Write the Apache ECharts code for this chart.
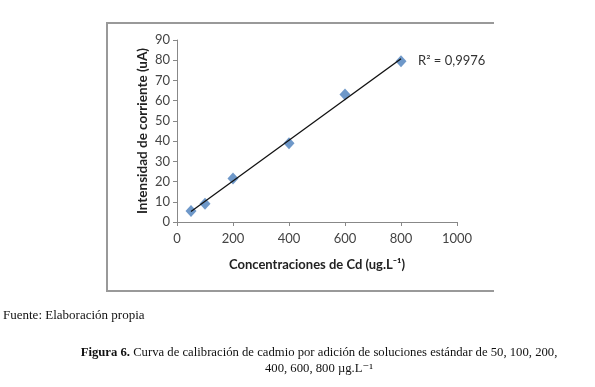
<!DOCTYPE html>
<html>
<head>
<meta charset="utf-8">
<script src="https://cdn.jsdelivr.net/npm/echarts@6/dist/echarts.min.js"></script>
<style>
  html, body { margin: 0; padding: 0; background: #fff; }
  #chart { width: 595px; height: 387px; }
</style>
</head>
<body>
<div id="chart"></div>
<script>
// concentraciones (ug/L) y corriente (uA)
const concentraciones = [50, 100, 200, 400, 600, 800]
const corriente = [5.5, 9, 21.5, 39, 63, 79.5]
const r2Texto = 'R² = 0,9976'
const fuente = 'Fuente: Elaboración propia'
const captionBold = 'Figura 6.'
const captionLine1 = ' Curva de calibración de cadmio por adición de soluciones estándar de 50, 100, 200,'
const captionLine2 = '400, 600, 800 µg.L⁻¹'

const FONT = 'Lato, "Open Sans", sans-serif'
const SERIF = '"Liberation Serif", "DejaVu Serif", serif'

// recta de mínimos cuadrados
function fit(xs, ys) {
  const n = xs.length
  const mx = xs.reduce((a, b) => a + b, 0) / n
  const my = ys.reduce((a, b) => a + b, 0) / n
  let sxy = 0, sxx = 0
  for (let i = 0; i < n; i++) {
    sxy += (xs[i] - mx) * (ys[i] - my)
    sxx += (xs[i] - mx) ** 2
  }
  const m = sxy / sxx
  return { m, b: my - m * mx }
}

const { m, b } = fit(concentraciones, corriente)
const xMin = Math.min(...concentraciones)
const xMax = Math.max(...concentraciones)
const trend = [[xMin, m * xMin + b], [xMax, m * xMax + b]]
const points = concentraciones.map((x, i) => [x, corriente[i]])

const chart = echarts.init(document.getElementById('chart'))
chart.setOption({
  backgroundColor: '#fff',
  animation: false,
  grid: { left: 177, right: 138, top: 40, bottom: 165 },
  xAxis: {
    type: 'value',
    min: 0,
    max: 1000,
    interval: 200,
    name: 'Concentraciones de Cd (ug.L⁻¹)',
    nameLocation: 'middle',
    nameGap: 36,
    nameTextStyle: { fontFamily: FONT, fontSize: 13, fontWeight: 'bold', color: '#222' },
    axisLine: { lineStyle: { color: '#888', width: 1 } },
    axisTick: { show: true, length: 4, lineStyle: { color: '#888' } },
    axisLabel: {
      fontFamily: FONT, fontSize: 13, color: '#444', margin: 10,
      formatter: (v) => String(v)
    },
    splitLine: { show: false }
  },
  yAxis: {
    type: 'value',
    min: 0,
    max: 90,
    interval: 10,
    name: 'Intensidad de corriente (uA)',
    nameLocation: 'middle',
    nameGap: 27,
    nameRotate: 90,
    nameTextStyle: { fontFamily: FONT, fontSize: 13.5, fontWeight: 'bold', color: '#222' },
    axisLine: { show: true, lineStyle: { color: '#888', width: 1 } },
    axisTick: { show: true, length: 4, lineStyle: { color: '#888' } },
    axisLabel: { fontFamily: FONT, fontSize: 13, color: '#444', margin: 7 },
    splitLine: { show: false }
  },
  series: [
    {
      name: 'Lineal',
      type: 'line',
      data: trend,
      symbol: 'none',
      lineStyle: { color: '#111', width: 1.3 },
      z: 3,
      endLabel: {
        show: true,
        formatter: r2Texto,
        distance: 17,
        fontFamily: FONT,
        fontSize: 13,
        color: '#333',
        offset: [0, 2]
      }
    },
    {
      name: 'Cd',
      type: 'scatter',
      data: points,
      symbol: 'diamond',
      symbolSize: [11, 12],
      itemStyle: { color: '#4A7EBB' },
      z: 2
    }
  ],
  graphic: [
    {
      type: 'polyline',
      shape: { points: [[494, 23], [107, 23], [107, 291], [494, 291]] },
      style: { stroke: '#999', lineWidth: 2, fill: null }
    },
    {
      type: 'text',
      left: 3,
      top: 309,
      style: { text: fuente, font: '13px ' + SERIF, fill: '#111' }
    },
    {
      type: 'text',
      x: 319,
      y: 346,
      style: {
        text: '{b|' + captionBold + '}{n|' + captionLine1 + '}',
        align: 'center',
        rich: {
          b: { font: 'bold 12.7px ' + SERIF, fill: '#111' },
          n: { font: '12.7px ' + SERIF, fill: '#111' }
        }
      }
    },
    {
      type: 'text',
      x: 319,
      y: 362,
      style: { text: captionLine2, align: 'center', font: '12.7px ' + SERIF, fill: '#111' }
    }
  ]
})
</script>
</body>
</html>
